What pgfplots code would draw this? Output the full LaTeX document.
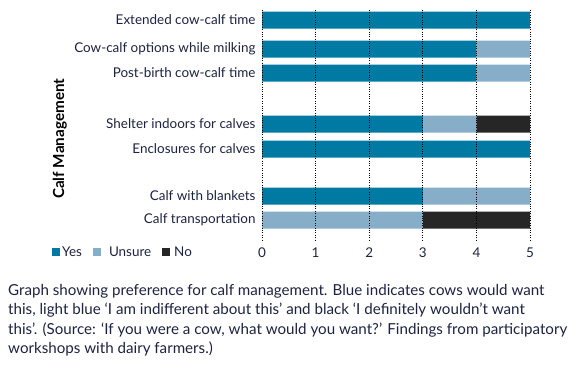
\documentclass[border=0pt]{standalone}
\usepackage{fontspec}
\setmainfont{Lato}
\usepackage{pgfplots}
\pgfplotsset{compat=1.18}
\definecolor{yesc}{HTML}{0079A3}
\definecolor{unsc}{HTML}{87AEC9}
\definecolor{noc}{HTML}{262626}
\definecolor{txt}{HTML}{1C2340}
\begin{document}
\begin{tikzpicture}[x=1bp,y=1bp]
\path (0,0) rectangle (583,-371);
\begin{axis}[
  at={(262bp,-10bp)}, anchor=north west,
  scale only axis, width=268bp, height=230bp,
  xmin=0, xmax=5, ymin=10, ymax=240, y dir=reverse,
  xbar stacked, bar width=17bp,
  ytick={20,49,73,124,149,196,220},
  yticklabels={Extended cow-calf time, Cow-calf options while milking, Post-birth cow-calf time, Shelter indoors for calves, Enclosures for calves, Calf with blankets, Calf transportation},
  xtick={0,1,2,3,4,5},
  /pgf/number format/assume math mode=true,
  axis line style={draw=none}, major tick length=0pt,
  xmajorgrids, grid style={black, dotted, line width=0.9pt},
  axis on top,
  xticklabel style={font=\fontsize{13.5}{15}\selectfont, text=txt},
  yticklabel style={font=\fontsize{13.5}{15}\selectfont, text=txt},
  yticklabel style={xshift=-3bp},
  xticklabel style={yshift=-4bp},
  ylabel={Calf Management},
  ylabel style={at={(axis description cs:-0.754,0.44)}, anchor=center, font=\bfseries\fontsize{15.3}{17}\selectfont, text=black},
  legend style={at={(axis description cs:-0.7836,-0.052)}, anchor=west, draw=none, fill=none, legend columns=3,
    font=\fontsize{13.5}{15}\selectfont, text=txt, inner sep=0pt,
    /tikz/every even column/.append style={column sep=9bp}},
  legend image code/.code={\fill[#1] (0bp,-4bp) rectangle (8bp,4bp);},
]
\addplot[fill=yesc, draw=none] coordinates {(5,20) (4,49) (4,73) (3,124) (5,149) (3,196) (0,220)};
\addplot[fill=unsc, draw=none] coordinates {(0,20) (1,49) (1,73) (1,124) (0,149) (2,196) (3,220)};
\addplot[fill=noc, draw=none] coordinates {(0,20) (0,49) (0,73) (1,124) (0,149) (0,196) (2,220)};
\legend{Yes, \hspace{6bp}Unsure, \hspace{2bp}No}
\end{axis}
\node[anchor=north west, inner sep=0pt, align=left, font=\fontsize{15.2}{19.5}\selectfont, text=txt] at (8bp,-284bp)
{Graph showing preference for calf management. Blue indicates cows would want\\
this, light blue ‘I am indifferent about this’ and black ‘I definitely wouldn’t want\\
this’. (Source: ‘If you were a cow, what would you want?’ Findings from participatory\\
workshops with dairy farmers.)};
\end{tikzpicture}
\end{document}
